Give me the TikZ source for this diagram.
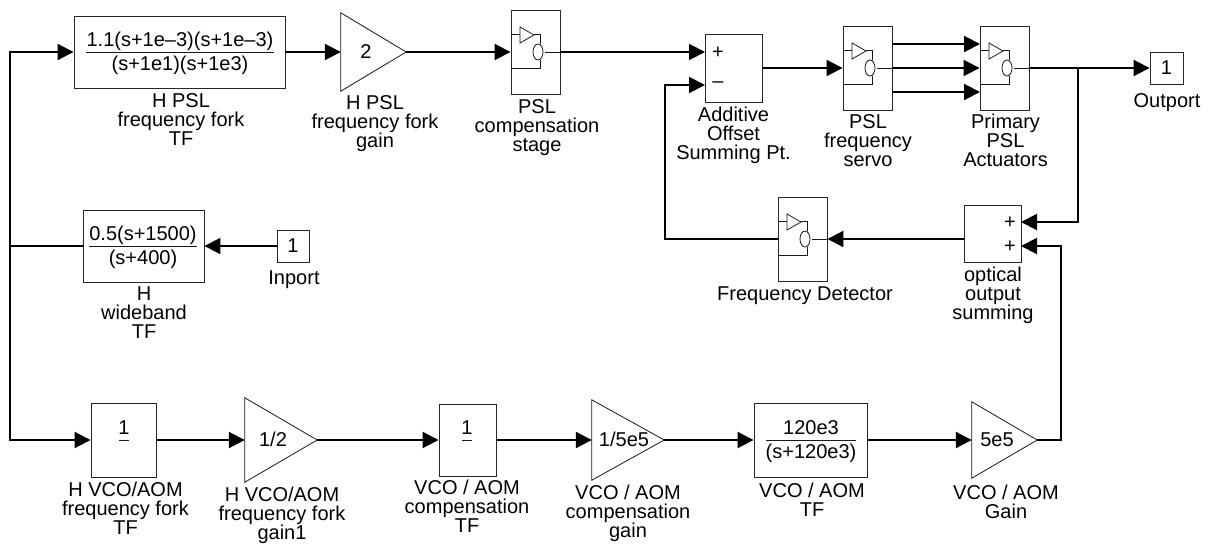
\documentclass[tikz,border=0pt]{standalone}
\usepackage{fontspec}
\setmainfont{Liberation Sans}
\usetikzlibrary{arrows.meta}
\tikzset{
  x=1pt,y=-1pt,
  every node/.style={font=\fontsize{20}{19}\selectfont},
  blk/.style={draw=black!85,line width=0.9pt,inner sep=0pt,minimum width=#1},
  ghost/.style={inner sep=0pt,minimum width=#1},
  lbl/.style={anchor=north,align=center,inner sep=0pt},
  txt/.style={inner sep=0pt},
  thin line/.style={draw=black!90,line width=0.8pt},
  wire/.style={line width=2pt,-{Triangle[length=16pt,width=16pt]}},
  plainwire/.style={line width=2pt},
}
% rectangular block: name, x0, y0, x1, y1
\newcommand{\blockbox}[5]{\node[blk=#4-#2,minimum height=#5-#3] (#1) at ({(#2+#4)/2},{(#3+#5)/2}) {};}
% subsystem block
\newcommand{\subsysblock}[3]{%
  \node[blk=49,minimum height=84] (#1) at ({#2+24.5},{#3+42}) {};
  \begin{scope}[shift={(#2,#3)},thin line]
    \draw (0,24) -- (9,24);
    \draw (9,17) -- (9,33) -- (23,25) -- cycle;
    \draw (23,24) -- (29,24) -- (29,34);
    \draw (27,42) ellipse [x radius=5,y radius=8];
    \draw (29,50) -- (29,58) -- (0,58);
    \draw (34,42) -- (49,42);
  \end{scope}}
% gain block: name, x0, y0, x1, y1, label, label centre x
\newcommand{\gainblock}[7]{%
  \node[ghost=#4-#2,minimum height=#5-#3] (#1) at ({(#2+#4)/2},{(#3+#5)/2}) {};
  \draw[thin line] (#1.north west) -- (#1.east) -- (#1.south west) -- cycle;
  \node[txt,anchor=base] (#1txt) at (#7,{(#3+#5)/2+6}) {#6};}
% fraction: name, centre x, rule y, half rule, numerator, denominator
\newcommand{\fractext}[6]{%
  \node[txt,anchor=base] (#1num) at (#2,#3-6) {#5};
  \node[txt,anchor=base] (#1den) at (#2,#3+18) {#6};
  \draw[thin line] (#2-#4,#3) -- (#2+#4,#3);}
\begin{document}
\begin{tikzpicture}
\useasboundingbox (0,0) rectangle (1209,544);
% top row
\blockbox{tfone}{74}{16}{285}{88}
\fractext{tfone}{180}{52}{94}{1.1(s+1e–3)(s+1e–3)}{(s+1e1)(s+1e3)}
\gainblock{gone}{341}{13}{406}{91}{2}{366}
\subsysblock{comp}{511}{10}
\blockbox{addsum}{705}{34}{762}{102}
\node[txt] (plusa) at (718,52.5) {+};
\node[txt] (minusa) at (718,85) {–};
\subsysblock{servo}{843}{26}
\subsysblock{actu}{980}{26}
\blockbox{outp}{1150}{52}{1183}{84}
\node[txt] (outn) at (1166.5,68) {1};
% middle row
\blockbox{wb}{83}{210}{204}{282}
\fractext{wb}{143}{246}{54}{0.5(s+1500)}{(s+400)}
\blockbox{inp}{277}{230}{309}{262}
\node[txt] (inn) at (293,246) {1};
\subsysblock{fdet}{778}{197}
\blockbox{opt}{964}{205}{1021}{262}
\node[txt] (plusb) at (1010,223) {+};
\node[txt] (plusc) at (1010,247) {+};
% bottom row
\blockbox{hvco}{91}{403}{156}{477}
\fractext{hvco}{124}{440}{5}{1}{}
\gainblock{gvco}{245}{398}{317}{482}{1/2}{273}
\blockbox{vcomp}{439}{404}{496}{476}
\fractext{vcomp}{467}{440}{5}{1}{}
\gainblock{gcomp}{592}{400}{664}{480}{1/5e5}{624}
\blockbox{vtf}{754}{403}{867}{477}
\fractext{vtf}{811}{440}{45}{120e3}{(s+120e3)}
\gainblock{gfive}{972}{402}{1037}{478}{5e5}{997}
% labels
\node[lbl] (l1) at (181,93) {H PSL\\frequency fork\\TF};
\node[lbl] (l2) at (375,95) {H PSL\\frequency fork\\gain};
\node[lbl] (l3) at (537,99) {PSL\\compensation\\stage};
\node[lbl] (l4) at (733.5,107) {Additive\\Offset\\Summing Pt.};
\node[lbl] (l5) at (868,114) {PSL\\frequency\\servo};
\node[lbl] (l6) at (1005.5,114) {Primary\\PSL\\Actuators};
\node[lbl] (l7) at (1167,93) {Outport};
\node[lbl] (l8) at (805,287) {Frequency Detector};
\node[lbl] (l9) at (993,267) {optical\\output\\summing};
\node[lbl] (l10) at (294,271) {Inport};
\node[lbl] (l11) at (144,287) {H\\wideband\\TF};
\node[lbl] (l12) at (125.5,482) {H VCO/AOM\\frequency fork\\TF};
\node[lbl] (l13) at (282,487) {H VCO/AOM\\frequency fork\\gain1};
\node[lbl] (l14) at (467,480) {VCO / AOM\\compensation\\TF};
\node[lbl] (l15) at (628,485) {VCO / AOM\\compensation\\gain};
\node[lbl] (l16) at (812,483) {VCO / AOM\\TF};
\node[lbl] (l17) at (1006,485) {VCO / AOM\\Gain};
% junctions and ports
\coordinate (bus) at (10,246);
\coordinate (addp) at (705,52);
\coordinate (addm) at (705,85);
\coordinate (back) at (665,85);
\coordinate (servoa) at (892,44);
\coordinate (servob) at (892,92);
\coordinate (actua) at (980,44);
\coordinate (actub) at (980,92);
\coordinate (addout) at (762,68);
\coordinate (tap) at (1078,68);
\coordinate (optp) at (1021,222);
\coordinate (optq) at (1021,246);
\coordinate (rise) at (1061,440);
% connectors
\draw[wire] (tfone.east) -- (gone.west);
\draw[wire] (gone.east) -- (comp.west);
\draw[wire] (comp.east) -- (addp);
\draw[wire] (addout) -- (servo.west);
\draw[wire] (servoa) -- (actua);
\draw[wire] (servo.east) -- (actu.west);
\draw[wire] (servob) -- (actub);
\draw[wire] (actu.east) -- (outp.west);
\draw[wire] (tap) |- (optp);
\draw[wire] (gfive.east) -- (rise) |- (optq);
\draw[wire] (opt.west |- fdet.east) -- (fdet.east);
\draw[wire] (fdet.west) -- (fdet.west -| back) -- (back) -- (addm);
\draw[wire] (inp.west) -- (wb.east);
\draw[plainwire] (wb.west) -- (bus);
\draw[wire] (bus) |- (tfone.west);
\draw[wire] (bus) |- (hvco.west);
\draw[wire] (hvco.east) -- (gvco.west);
\draw[wire] (gvco.east) -- (vcomp.west);
\draw[wire] (vcomp.east) -- (gcomp.west);
\draw[wire] (gcomp.east) -- (vtf.west);
\draw[wire] (vtf.east) -- (gfive.west);
\end{tikzpicture}
\end{document}
